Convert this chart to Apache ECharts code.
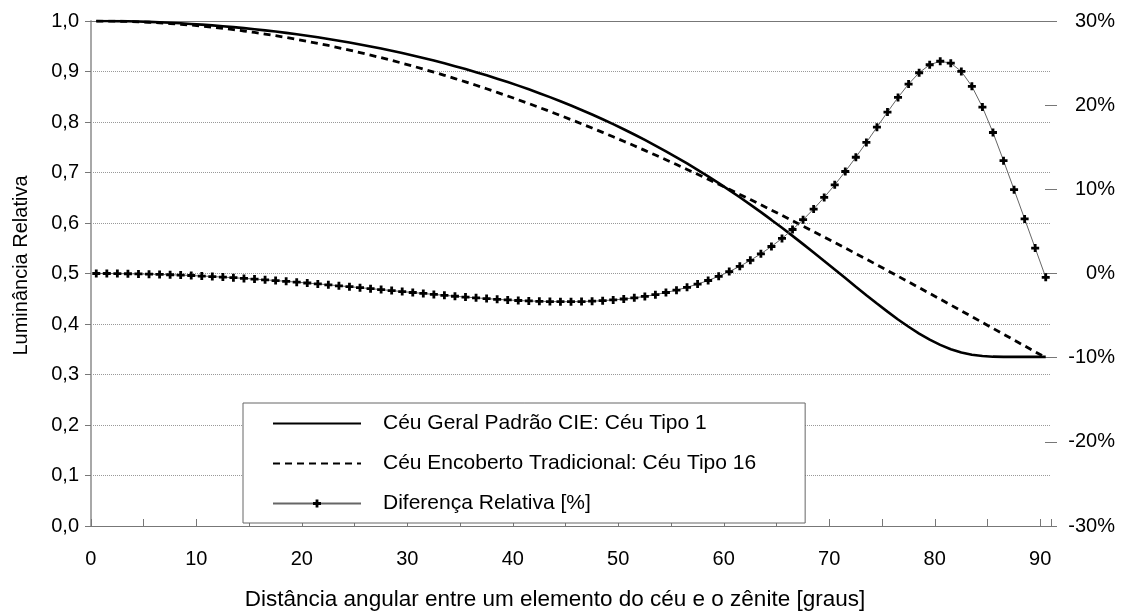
<!DOCTYPE html>
<html>
<head>
<meta charset="utf-8">
<script src="https://cdn.jsdelivr.net/npm/echarts@6/dist/echarts.min.js"></script>
<style>
html,body{margin:0;padding:0;background:#fff;}
#chart{width:1128px;height:612px;}
</style>
</head>
<body>
<div id="chart"></div>
<script>
// Angular distance from zenith [degrees]
const angles = [0,1,2,3,4,5,6,7,8,9,10,11,12,13,14,15,16,17,18,19,20,21,22,23,24,25,26,27,28,29,30,31,32,33,34,35,36,37,38,39,40,41,42,43,44,45,46,47,48,49,50,51,52,53,54,55,56,57,58,59,60,61,62,63,64,65,66,67,68,69,70,71,72,73,74,75,76,77,78,79,80,81,82,83,84,85,86,87,88,89,90];

// Céu Geral Padrão CIE: Céu Tipo 1 (relative luminance)
const ceuTipo1 = [1.0000,0.9999,0.9997,0.9994,0.9989,0.9982,0.9974,0.9965,0.9954,0.9942,
0.9929,0.9913,0.9897,0.9879,0.9859,0.9838,0.9815,0.9791,0.9765,0.9737,
0.9708,0.9677,0.9644,0.9610,0.9574,0.9536,0.9496,0.9454,0.9411,0.9365,
0.9317,0.9268,0.9216,0.9162,0.9106,0.9048,0.8987,0.8924,0.8858,0.8790,
0.8720,0.8647,0.8571,0.8492,0.8410,0.8326,0.8238,0.8148,0.8054,0.7957,
0.7857,0.7753,0.7645,0.7534,0.7420,0.7301,0.7179,0.7053,0.6923,0.6789,
0.6652,0.6510,0.6364,0.6215,0.6061,0.5905,0.5745,0.5582,0.5416,0.5248,
0.5079,0.4909,0.4739,0.4571,0.4405,0.4245,0.4090,0.3945,0.3811,0.3690,
0.3586,0.3501,0.3436,0.3392,0.3365,0.3353,0.3349,0.3349,0.3349,0.3349,0.3349];

// Céu Encoberto Tradicional: Céu Tipo 16 (relative luminance)
const ceuTipo16 = [1.0000,0.9999,0.9996,0.9991,0.9984,0.9975,0.9963,0.9950,0.9935,0.9918,
0.9899,0.9878,0.9854,0.9829,0.9802,0.9773,0.9742,0.9709,0.9674,0.9637,
0.9598,0.9557,0.9515,0.9470,0.9424,0.9375,0.9325,0.9273,0.9220,0.9164,
0.9107,0.9048,0.8987,0.8925,0.8860,0.8794,0.8727,0.8658,0.8587,0.8514,
0.8440,0.8365,0.8288,0.8209,0.8129,0.8047,0.7964,0.7880,0.7794,0.7707,
0.7619,0.7529,0.7438,0.7345,0.7252,0.7157,0.7061,0.6964,0.6866,0.6767,
0.6667,0.6565,0.6463,0.6360,0.6256,0.6151,0.6045,0.5938,0.5831,0.5723,
0.5614,0.5504,0.5393,0.5283,0.5171,0.5059,0.4946,0.4833,0.4719,0.4605,
0.4491,0.4376,0.4261,0.4146,0.4030,0.3914,0.3798,0.3682,0.3566,0.3450,0.3333];

// Diferença Relativa [%]
const diferenca = [0.00,0.00,-0.01,-0.03,-0.05,-0.08,-0.11,-0.15,-0.19,-0.24,
-0.30,-0.36,-0.43,-0.50,-0.58,-0.66,-0.75,-0.84,-0.93,-1.03,
-1.13,-1.24,-1.34,-1.46,-1.57,-1.68,-1.80,-1.91,-2.03,-2.15,
-2.26,-2.37,-2.49,-2.59,-2.70,-2.80,-2.89,-2.98,-3.07,-3.14,
-3.21,-3.26,-3.30,-3.33,-3.35,-3.35,-3.33,-3.29,-3.23,-3.14,
-3.03,-2.89,-2.72,-2.51,-2.26,-1.98,-1.64,-1.26,-0.83,-0.33,
0.23,0.85,1.56,2.34,3.21,4.17,5.23,6.39,7.66,9.04,
10.53,12.12,13.81,15.57,17.38,19.18,20.92,22.51,23.85,24.80,
25.22,24.99,24.01,22.24,19.77,16.75,13.41,9.96,6.49,3.02,-0.46];

const seriesNames = ['Céu Geral Padrão CIE: Céu Tipo 1','Céu Encoberto Tradicional: Céu Tipo 16','Diferença Relativa [%]'];
const leftTickLabels = ['0,0','0,1','0,2','0,3','0,4','0,5','0,6','0,7','0,8','0,9','1,0'];
const rightTickLabels = ['-30%','-20%','-10%','0%','10%','20%','30%'];
const xAxisTitle = 'Distância angular entre um elemento do céu e o zênite [graus]';
const yAxisTitle = 'Luminância Relativa';

const FONT = 'Liberation Sans, Arial, sans-serif';
const plusPath = 'path://M2.6,0H5.4V2.6H8V5.4H5.4V8H2.6V5.4H0V2.6H2.6Z';
const hiddenSymbol = {color: 'rgba(0,0,0,0)', opacity: 0, borderWidth: 0};

const chart = echarts.init(document.getElementById('chart'), null, {renderer:'canvas'});
chart.setOption({
  animation: false,
  backgroundColor: '#fff',
  textStyle: {fontFamily: FONT, color: '#000'},
  grid: {left: 91, right: 77, top: 21, bottom: 86, outerBoundsMode: 'none', containLabel: false},
  legend: {
    orient: 'vertical',
    left: 243, top: 403,
    padding: [10, 49, 9, 29],
    itemWidth: 88, itemHeight: 10, itemGap: 19,
    backgroundColor: '#fff',
    borderColor: '#666', borderWidth: 1,
    textStyle: {fontFamily: FONT, fontSize: 21, color: '#000', lineHeight: 21, padding: [0,0,0,17]},
    data: [
      {name: seriesNames[0], itemStyle: hiddenSymbol},
      {name: seriesNames[1], itemStyle: hiddenSymbol},
      {name: seriesNames[2]}
    ]
  },
  xAxis: [{
    type: 'category',
    data: angles,
    boundaryGap: true,
    axisLine: {show: true, onZero: false, lineStyle: {color: '#777', width: 1}},
    axisTick: {show: true, inside: true, length: 7, interval: 4, lineStyle: {color: '#777'}},
    axisLabel: {interval: 9, margin: 23, fontSize: 20, color: '#000', fontFamily: FONT, padding: [0, 11, 0, 0]},
    splitLine: {show: false},
    name: xAxisTitle,
    nameLocation: 'middle',
    nameGap: 62,
    nameTextStyle: {fontSize: 22.5, color: '#000', fontFamily: FONT, padding: [0, 32, 0, 0]}
  }, {
    type: 'category',
    data: angles,
    position: 'top',
    boundaryGap: true,
    axisLine: {show: true, onZero: false, lineStyle: {color: '#777', width: 1}},
    axisTick: {show: false},
    axisLabel: {show: false},
    splitLine: {show: false}
  }],
  yAxis: [{
    type: 'value',
    min: 0, max: 1, interval: 0.1,
    position: 'left',
    axisLine: {show: true, lineStyle: {color: '#a8a8a8', width: 2}},
    axisTick: {show: true, inside: false, length: 6, lineStyle: {color: '#777'}},
    axisLabel: {margin: 12, fontSize: 20, color: '#000', fontFamily: FONT,
      formatter: function (v) { return leftTickLabels[Math.round(v * 10)]; }},
    splitLine: {show: true, lineStyle: {color: '#999', width: 1, type: [1, 1]}},
    name: yAxisTitle,
    nameLocation: 'middle',
    nameGap: 60,
    nameTextStyle: {fontSize: 20, color: '#000', fontFamily: FONT, padding: [0, 0, 0, 16]}
  }, {
    type: 'value',
    min: -30, max: 30, interval: 10,
    position: 'right',
    offset: -6,
    axisLine: {show: false},
    axisTick: {show: true, inside: false, length: 12, lineStyle: {color: '#777'}},
    axisLabel: {margin: 70, align: 'right', fontSize: 20, color: '#000', fontFamily: FONT, padding: [8, 0, 0, 0],
      formatter: function (v) { return rightTickLabels[Math.round((v + 30) / 10)]; }},
    splitLine: {show: false}
  }],
  series: [{
    name: seriesNames[0],
    type: 'line',
    xAxisIndex: 0, yAxisIndex: 0,
    data: ceuTipo1,
    symbol: 'none',
    lineStyle: {color: '#000', width: 2.6, type: 'solid'},
    itemStyle: {color: '#000'},
    z: 3
  }, {
    name: seriesNames[1],
    type: 'line',
    xAxisIndex: 0, yAxisIndex: 0,
    data: ceuTipo16,
    symbol: 'none',
    lineStyle: {color: '#000', width: 2.8, type: [7, 5]},
    itemStyle: {color: '#000'},
    z: 3
  }, {
    name: seriesNames[2],
    type: 'line',
    xAxisIndex: 0, yAxisIndex: 1,
    data: diferenca,
    symbol: plusPath,
    symbolSize: 8,
    showAllSymbol: true,
    lineStyle: {color: '#666', width: 1},
    itemStyle: {color: '#000'},
    z: 4
  }]
});
</script>
</body>
</html>
